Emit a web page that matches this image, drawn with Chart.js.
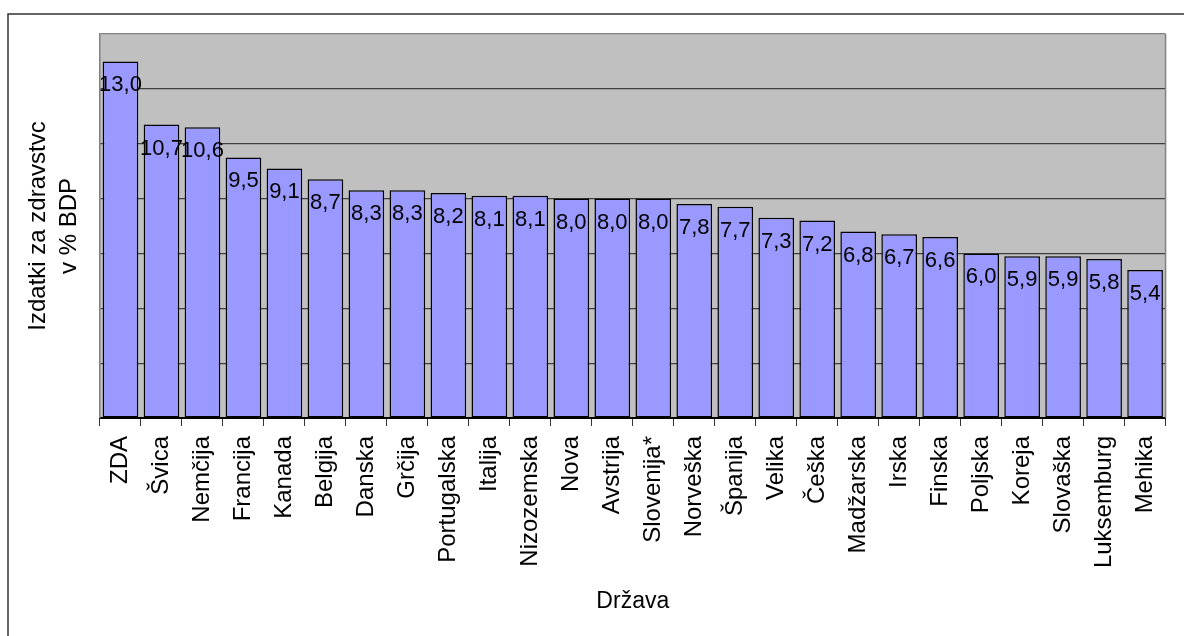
<!DOCTYPE html>
<html>
<head>
<meta charset="utf-8">
<script src="https://cdn.jsdelivr.net/npm/chart.js@4.4.1/dist/chart.umd.min.js"></script>
<style>
  body { margin: 0; background: #fff; }
  #wrap { width: 1184px; height: 636px; position: relative; }
</style>
</head>
<body>
<div id="wrap"><canvas id="chart" width="1184" height="636"></canvas></div>
<script>
// Countries (x axis categories)
const countries = ["ZDA", "Švica", "Nemčija", "Francija", "Kanada", "Belgija", "Danska", "Grčija",
    "Portugalska", "Italija", "Nizozemska", "Nova", "Avstrija", "Slovenija*", "Norveška", "Španija",
    "Velika", "Češka", "Madžarska", "Irska", "Finska", "Poljska", "Koreja", "Slovaška",
    "Luksemburg", "Mehika"];

// Health expenditure as % of GDP
const spending = [13.0, 10.7, 10.6, 9.5, 9.1, 8.7, 8.3, 8.3, 8.2, 8.1, 8.1, 8.0, 8.0, 8.0,
    7.8, 7.7, 7.3, 7.2, 6.8, 6.7, 6.6, 6.0, 5.9, 5.9, 5.8, 5.4];

// Y axis range
const yMin = 0;
const yMax = 14;
const yStep = 2;

const fontFamily = "'Liberation Sans', Arial, sans-serif";

// Format value with decimal comma
function formatValue(v) {
    return v.toFixed(1).replace(".", ",");
}

// Plot background and outer frame
const framePlugin = {
    id: "frame",
    beforeDraw(chart) {
        const ctx = chart.ctx;
        const a = chart.chartArea;
        ctx.save();
        ctx.fillStyle = "#C0C0C0";
        ctx.fillRect(a.left, a.top, a.right - a.left, a.bottom - a.top);
        ctx.strokeStyle = "#333333";
        ctx.lineWidth = 1.5;
        ctx.strokeRect(8, 14, 1200, 700);
        ctx.restore();
    },
    afterDraw(chart) {
        const ctx = chart.ctx;
        const a = chart.chartArea;
        ctx.save();
        ctx.strokeStyle = "#808080";
        ctx.lineWidth = 1.5;
        ctx.beginPath();
        ctx.moveTo(a.right, a.top);
        ctx.lineTo(a.right, a.bottom);
        ctx.stroke();
        ctx.restore();
    }
};

// Value labels just under the top of each bar
const barLabelPlugin = {
    id: "barLabels",
    afterDatasetsDraw(chart) {
        const ctx = chart.ctx;
        const meta = chart.getDatasetMeta(0);
        ctx.save();
        ctx.font = "22px " + fontFamily;
        ctx.fillStyle = "#000";
        ctx.textAlign = "center";
        ctx.textBaseline = "middle";
        meta.data.forEach((bar, i) => {
            ctx.fillText(formatValue(spending[i]), bar.x, bar.y + 24);
        });
        ctx.restore();
    }
};

const ctx = document.getElementById("chart").getContext("2d");

new Chart(ctx, {
    type: "bar",
    data: {
        labels: countries,
        datasets: [{
            data: spending,
            backgroundColor: "#9999FF",
            borderColor: "#000000",
            borderWidth: 1.5,
            borderSkipped: false,
            barPercentage: 0.87,
            categoryPercentage: 1.0
        }]
    },
    options: {
        responsive: false,
        animation: false,
        devicePixelRatio: 1,
        layout: { padding: { top: 34, right: 6, left: 0, bottom: 0 } },
        plugins: {
            legend: { display: false },
            tooltip: { enabled: false }
        },
        scales: {
            x: {
                afterFit(scale) { scale.height = 218; },
                grid: {
                    offset: true,
                    drawOnChartArea: false,
                    drawTicks: true,
                    tickLength: 8,
                    color: "#333333",
                    lineWidth: 1
                },
                border: { display: true, color: "#000000", width: 2 },
                ticks: {
                    autoSkip: false,
                    minRotation: 90,
                    maxRotation: 90,
                    padding: 10,
                    color: "#000",
                    font: { family: fontFamily, size: 24 }
                },
                title: {
                    display: true,
                    text: "Država",
                    color: "#000",
                    font: { family: fontFamily, size: 23 },
                    padding: { top: 0, bottom: 21 }
                }
            },
            y: {
                min: yMin,
                max: yMax,
                afterFit(scale) { scale.width = 100; },
                ticks: { display: false, stepSize: yStep },
                grid: {
                    drawTicks: false,
                    color: (c) => (c.tick && c.tick.value === yMax) ? "#808080" : "#404040",
                    lineWidth: 1.2
                },
                border: { display: true, color: "#808080", width: 1.5 },
                title: {
                    display: true,
                    text: ["Izdatki za zdravstvc", "v % BDP"],
                    color: "#000",
                    font: { family: fontFamily, size: 24, lineHeight: 1.3 },
                    padding: { top: 23, bottom: 0 }
                }
            }
        }
    },
    plugins: [framePlugin, barLabelPlugin]
});
</script>
</body>
</html>
